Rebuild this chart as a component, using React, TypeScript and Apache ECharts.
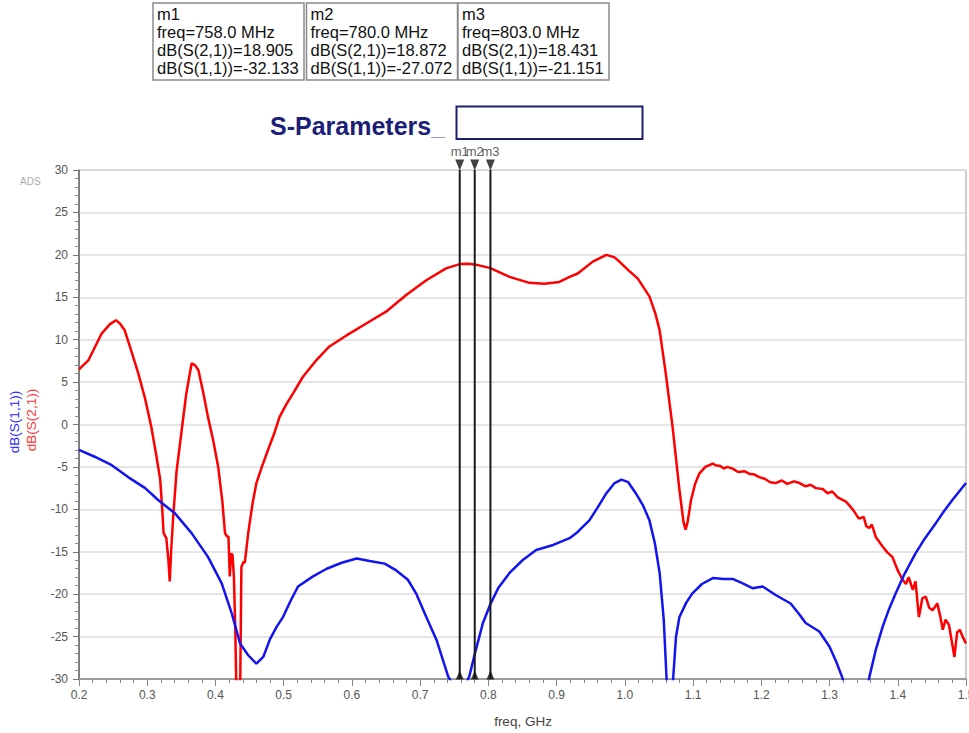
import React, { useEffect, useRef } from "react";
import * as echarts from "echarts";

// ---- data ----
const s21Freq = [
  0.200, 0.214, 0.233, 0.245, 0.254, 0.260, 0.267, 0.277, 0.287, 0.297, 0.306, 0.313, 0.319, 0.322, 0.324, 0.328,
  0.331, 0.333, 0.335, 0.338, 0.343, 0.350, 0.357, 0.365, 0.370, 0.375, 0.382, 0.389, 0.397, 0.404, 0.410, 0.414,
  0.417, 0.419, 0.421, 0.423, 0.425, 0.427, 0.429, 0.431, 0.436, 0.438, 0.441, 0.443, 0.448, 0.454, 0.460, 0.468,
  0.477, 0.487, 0.494, 0.504, 0.514, 0.528, 0.548, 0.567, 0.592, 0.621, 0.650, 0.680, 0.709, 0.738, 0.758, 0.770,
  0.780, 0.803, 0.831, 0.860, 0.882, 0.904, 0.919, 0.931, 0.953, 0.973, 0.985, 0.992, 1.005, 1.019, 1.036, 1.045,
  1.051, 1.060, 1.070, 1.080, 1.086, 1.089, 1.092, 1.097, 1.103, 1.109, 1.118, 1.129, 1.133, 1.140, 1.145, 1.150,
  1.158, 1.166, 1.175, 1.182, 1.190, 1.197, 1.205, 1.213, 1.221, 1.230, 1.238, 1.248, 1.256, 1.265, 1.272, 1.280,
  1.290, 1.297, 1.304, 1.312, 1.324, 1.334, 1.343, 1.350, 1.354, 1.358, 1.362, 1.368, 1.378, 1.385, 1.392, 1.400,
  1.407, 1.412, 1.416, 1.422, 1.426, 1.431, 1.436, 1.441, 1.446, 1.451, 1.458, 1.462, 1.466, 1.470, 1.475, 1.479,
  1.483, 1.487, 1.491, 1.495, 1.500,
];
const s21Db = [
  6.5, 7.6, 10.7, 11.8, 12.3, 11.9, 11.1, 8.6, 6.0, 3.0, -0.3, -3.5, -6.5, -10.0, -12.8, -13.4,
  -16.0, -18.5, -15.0, -10.9, -5.5, -1.0, 3.5, 7.2, 7.0, 6.4, 3.8, 0.9, -2.0, -5.0, -9.0, -12.8,
  -13.2, -13.2, -17.9, -15.2, -15.4, -17.9, -24.0, -33.0, -33.0, -16.8, -16.2, -16.3, -12.8, -9.5, -6.9, -5.0,
  -3.0, -0.85, 0.9, 2.4, 3.7, 5.6, 7.6, 9.2, 10.5, 11.9, 13.3, 15.3, 17.0, 18.4, 18.905, 18.95,
  18.872, 18.431, 17.4, 16.7, 16.6, 16.8, 17.4, 17.8, 19.2, 20.0, 19.7, 19.2, 18.2, 17.2, 15.1, 13.0,
  11.1, 6.0, -0.3, -7.7, -11.5, -12.4, -11.5, -8.9, -7.0, -5.8, -5.0, -4.6, -4.8, -4.9, -5.2, -5.0,
  -5.2, -5.6, -5.5, -5.8, -5.9, -6.2, -6.4, -6.8, -6.9, -6.6, -7.0, -6.7, -6.9, -7.3, -7.1, -7.5,
  -7.6, -8.1, -7.9, -8.6, -9.1, -10.0, -11.1, -10.9, -12.0, -12.2, -11.8, -13.3, -14.4, -15.1, -15.6, -17.2,
  -18.3, -18.8, -18.0, -19.5, -18.5, -22.7, -20.5, -20.3, -21.6, -21.9, -21.1, -22.5, -24.2, -23.0, -23.6, -25.5,
  -27.4, -24.5, -24.2, -25.0, -25.8,
];

const s11Freq = [
  0.200, 0.223, 0.248, 0.272, 0.297, 0.316, 0.341, 0.365, 0.389, 0.409, 0.424, 0.436, 0.448, 0.460, 0.470, 0.480,
  0.490, 0.499, 0.510, 0.521, 0.543, 0.563, 0.585, 0.607, 0.626, 0.648, 0.665, 0.682, 0.694, 0.709, 0.724, 0.741,
  0.758, 0.772, 0.780, 0.792, 0.803, 0.815, 0.831, 0.850, 0.870, 0.895, 0.919, 0.929, 0.948, 0.960, 0.973, 0.985,
  0.995, 1.005, 1.016, 1.027, 1.036, 1.044, 1.051, 1.057, 1.061, 1.065, 1.071, 1.075, 1.080, 1.090, 1.099, 1.113,
  1.129, 1.145, 1.158, 1.172, 1.187, 1.202, 1.221, 1.243, 1.255, 1.265, 1.285, 1.300, 1.310, 1.319, 1.339, 1.358,
  1.368, 1.378, 1.387, 1.397, 1.410, 1.426, 1.440, 1.456, 1.468, 1.480, 1.500,
];
const s11Db = [
  -3.0, -3.8, -4.8, -6.2, -7.5, -8.9, -10.5, -12.8, -15.6, -18.7, -22.3, -25.8, -27.2, -28.2, -27.4, -25.3,
  -23.8, -22.7, -20.8, -19.1, -17.9, -17.0, -16.3, -15.8, -16.1, -16.4, -17.2, -18.3, -19.9, -22.7, -25.4, -29.7,
  -32.133, -29.7, -27.072, -23.4, -21.151, -19.2, -17.5, -16.0, -14.8, -14.2, -13.4, -12.8, -11.3, -9.8, -8.1, -6.9,
  -6.5, -6.8, -8.1, -9.6, -11.3, -14.0, -17.5, -23.0, -29.7, -36.0, -29.7, -25.0, -22.7, -21.0, -19.9, -18.8,
  -18.1, -18.2, -18.2, -18.7, -19.3, -19.1, -20.1, -21.1, -22.3, -23.4, -24.4, -26.2, -28.0, -29.9, -40.0, -29.9,
  -26.5, -23.8, -21.8, -19.9, -17.6, -15.2, -13.4, -11.6, -10.2, -8.9, -6.9,
];

const markerNames = ["m1", "m2", "m3"];
const markerFreqMHz = [758.0, 780.0, 803.0];
const markerS21 = [18.905, 18.872, 18.431];
const markerS11 = [-32.133, -27.072, -21.151];

const yTickValues = [30, 25, 20, 15, 10, 5, 0, -5, -10, -15, -20, -25, -30];

const FONT = '"Liberation Sans", Arial, sans-serif';

export default function App() {
  const ref = useRef<HTMLDivElement>(null);
  useEffect(() => {
    if (!ref.current) return;
    const chart = echarts.init(ref.current, null, { renderer: "svg" });

    const boxes: any[] = [];
    const boxX = [153, 306.5, 458];
    markerNames.forEach((n, i) => {
      boxes.push({
        type: "rect",
        shape: { x: boxX[i], y: 3, width: 151, height: 77 },
        style: { fill: "#fff", stroke: "#8a8a8a", lineWidth: 1.5 },
      });
      boxes.push({
        type: "text",
        x: boxX[i] + 4,
        y: 5,
        style: {
          text:
            `${n}\nfreq=${markerFreqMHz[i].toFixed(1)} MHz\n` +
            `dB(S(2,1))=${markerS21[i].toFixed(3)}\n` +
            `dB(S(1,1))=${markerS11[i].toFixed(3)}`,
          font: `16.5px ${FONT}`,
          lineHeight: 18,
          fill: "#111",
          verticalAlign: "top",
        },
      });
    });

    const option: any = {
      animation: false,
      backgroundColor: "#fff",
      grid: {
        left: 79,
        top: 170,
        right: 3,
        bottom: 54,
        show: true,
        borderColor: "#9a9a9a",
        borderWidth: 1,
        containLabel: false,
        outerBoundsMode: "none",
      },
      xAxis: {
        type: "value",
        min: 0.2,
        max: 1.5,
        interval: 0.1,
        axisLine: { show: true, onZero: false, lineStyle: { color: "#888", width: 1.5 } },
        axisTick: { show: true, length: 7, lineStyle: { color: "#888" } },
        minorTick: { show: true, splitNumber: 5, length: 4, lineStyle: { color: "#888" } },
        splitLine: { show: false },
        axisLabel: {
          formatter: (v: number) => v.toFixed(1),
          color: "#555",
          fontSize: 12,
          fontFamily: FONT,
          margin: 10,
        },
      },
      yAxis: {
        type: "value",
        min: -30,
        max: 30,
        interval: 5,
        axisLine: { show: true, onZero: false, lineStyle: { color: "#666", width: 1.5 } },
        axisTick: { show: true, length: 6, lineStyle: { color: "#777" } },
        minorTick: { show: true, splitNumber: 5, length: 4, lineStyle: { color: "#888" } },
        splitLine: { show: true, lineStyle: { color: "#dcdcdc", width: 1.5 } },
        axisLabel: {
          formatter: (v: number) => (yTickValues.includes(v) ? String(v) : ""),
          color: "#555",
          fontSize: 12,
          fontFamily: FONT,
          margin: 11,
        },
      },
      series: [
        {
          name: "dB(S(2,1))",
          type: "line",
          data: s21Freq.map((f, i) => [f, s21Db[i]]),
          showSymbol: false,
          lineStyle: { color: "#ff0000", width: 2.5 },
          itemStyle: { color: "#ff0000" },
          clip: true,
          z: 3,
        },
        {
          name: "dB(S(1,1))",
          type: "line",
          data: s11Freq.map((f, i) => [f, s11Db[i]]),
          showSymbol: false,
          lineStyle: { color: "#1414f0", width: 2.5 },
          itemStyle: { color: "#1414f0" },
          clip: true,
          z: 3,
        },
        ...markerFreqMHz.map((f) => ({
          type: "line",
          data: [
            [f / 1000, -30],
            [f / 1000, 30],
          ],
          showSymbol: false,
          lineStyle: { color: "#1a1a1a", width: 2 },
          z: 5,
        })),
        {
          type: "scatter",
          data: markerFreqMHz.map((f, i) => ({ name: markerNames[i], value: [f / 1000, 30] })),
          symbol: "triangle",
          symbolRotate: 180,
          symbolSize: [9, 11],
          symbolOffset: [0, -5],
          itemStyle: { color: "#111" },
          label: {
            show: true,
            position: "top",
            distance: 2,
            formatter: (p: any) => p.name,
            color: "#333",
            fontSize: 13,
            fontFamily: FONT,
          },
          clip: false,
          z: 6,
        },
        {
          type: "scatter",
          data: markerFreqMHz.map((f) => [f / 1000, -30]),
          symbol: "triangle",
          symbolSize: [8, 9],
          symbolOffset: [0, -4],
          itemStyle: { color: "#111" },
          clip: false,
          z: 6,
        },
      ],
      graphic: [
        ...boxes,
        {
          type: "text",
          x: 270,
          y: 126,
          style: {
            text: "{a|S-Parameters}{b|_}",
            verticalAlign: "middle",
            rich: {
              a: { font: `bold 25px ${FONT}`, fill: "#1b1f78" },
              b: { font: `bold 25px ${FONT}`, fill: "#8d9bd0" },
            },
          },
        },
        {
          type: "rect",
          shape: { x: 456.5, y: 106.5, width: 186, height: 32.5 },
          style: { fill: "none", stroke: "#1b1f6e", lineWidth: 2 },
        },
        {
          type: "text",
          x: 20,
          y: 181,
          style: { text: "ADS", font: `10px ${FONT}`, fill: "#aaa", verticalAlign: "middle" },
        },
        {
          type: "text",
          x: 14,
          y: 422,
          rotation: Math.PI / 2,
          style: {
            text: "dB(S(1,1))",
            font: `13.5px ${FONT}`,
            fill: "#2a2aff",
            align: "center",
            verticalAlign: "middle",
          },
        },
        {
          type: "text",
          x: 31,
          y: 420,
          rotation: Math.PI / 2,
          style: {
            text: "dB(S(2,1))",
            font: `13.5px ${FONT}`,
            fill: "#ff3333",
            align: "center",
            verticalAlign: "middle",
          },
        },
        {
          type: "text",
          x: 523,
          y: 721,
          style: {
            text: "freq, GHz",
            font: `13.5px ${FONT}`,
            fill: "#444",
            align: "center",
            verticalAlign: "middle",
          },
        },
      ],
    };
    chart.setOption(option);
    return () => chart.dispose();
  }, []);
  return (
    <div
      ref={ref}
      style={{ position: "fixed", left: 0, top: 0, width: 969, height: 733, background: "#fff" }}
    />
  );
}
